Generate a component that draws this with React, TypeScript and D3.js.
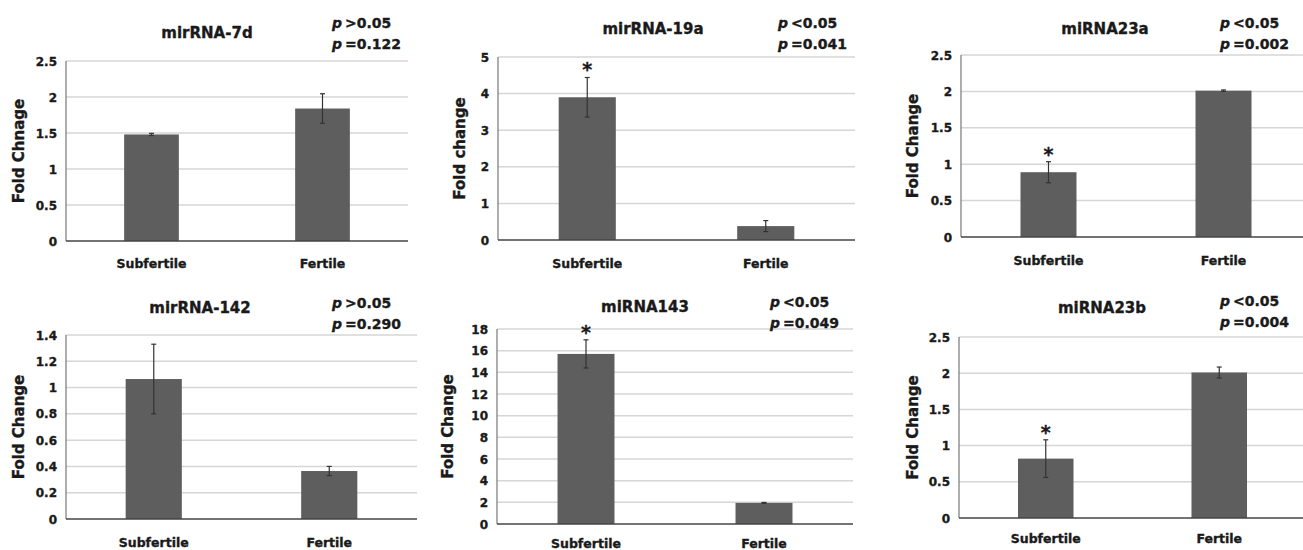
import React from "react";
import * as d3 from "d3";

// values
const groups = ["Subfertile", "Fertile"];
const titles = ["mirRNA-7d", "mirRNA-19a", "miRNA23a", "mirRNA-142", "miRNA143", "miRNA23b"];
const yLabels = ["Fold Chnage", "Fold change", "Fold Change", "Fold Change", "Fold Change", "Fold Change"];
const subfertileMean = [1.48, 3.9, 0.89, 1.065, 15.7, 0.82];
const subfertileErr = [0.015, 0.54, 0.145, 0.265, 1.3, 0.26];
const fertileMean = [1.84, 0.38, 2.01, 0.365, 1.95, 2.01];
const fertileErr = [0.205, 0.15, 0.01, 0.035, 0.04, 0.075];
const yMax = [2.5, 5, 2.5, 1.4, 18, 2.5];
const yStep = [0.5, 1, 0.5, 0.2, 2, 0.5];
const pSign = [">0.05", "<0.05", "<0.05", ">0.05", "<0.05", "<0.05"];
const pValue = ["=0.122", "=0.041", "=0.002", "=0.290", "=0.049", "=0.004"];
const starred = [false, true, true, false, true, true];

// where each panel sits on the page
const layout = [
  { left: 66, top: 61, bottom: 241, right: 408, titleX: 207, titleY: 38, pX: 332, pY: 28, yLabX: 24, xLabY: 268 },
  { left: 498, top: 57, bottom: 240, right: 855, titleX: 653, titleY: 34, pX: 778, pY: 28, yLabX: 465, xLabY: 268 },
  { left: 961, top: 55, bottom: 237, right: 1311, titleX: 1105, titleY: 34, pX: 1220, pY: 28, yLabX: 918, xLabY: 265 },
  { left: 66, top: 335, bottom: 519, right: 417, titleX: 200, titleY: 313, pX: 332, pY: 308, yLabX: 24, xLabY: 547 },
  { left: 497, top: 329, bottom: 524, right: 853, titleX: 645, titleY: 312, pX: 770, pY: 307, yLabX: 453, xLabY: 548 },
  { left: 959, top: 337, bottom: 518, right: 1306, titleX: 1102, titleY: 313, pX: 1220, pY: 306, yLabX: 918, xLabY: 543 },
];

const font = "'DejaVu Sans', sans-serif";
const ink = "#1a1a1a";
// the scan's lettering is heavier than plain bold
const heavy = { fontWeight: "bold", fontFamily: font, fill: ink, stroke: ink, strokeWidth: 0.35 } as const;

const Panel = ({ i }: { i: number }) => {
  const L = layout[i];
  const x = d3.scaleBand().domain(groups).range([L.left, L.right]).paddingInner(0.68).paddingOuter(0.34);
  const y = d3.scaleLinear().domain([0, yMax[i]]).range([L.bottom, L.top]);
  const ticks = d3.range(0, yMax[i] + yStep[i] / 2, yStep[i]);
  const fmt = (v: number) => String(+v.toFixed(1));
  const bars = [
    { key: groups[0], mean: subfertileMean[i], err: subfertileErr[i], star: starred[i] },
    { key: groups[1], mean: fertileMean[i], err: fertileErr[i], star: false },
  ];
  const midY = (L.top + L.bottom) / 2;

  return (
    <g>
      {ticks.map((t) => (
        <g key={t}>
          {t > 0 && (
            <line x1={L.left} x2={L.right} y1={y(t)} y2={y(t)} stroke="#d6d6d6" strokeWidth={1.5} />
          )}
          <text x={L.left - 9} y={y(t) + 4.5} textAnchor="end" fontSize={12} {...heavy}>
            {fmt(t)}
          </text>
        </g>
      ))}
      <line x1={L.left} x2={L.left} y1={L.top} y2={L.bottom} stroke="#777" strokeWidth={1.2} />
      {bars.map((b) => {
        const cx = (x(b.key) as number) + x.bandwidth() / 2;
        const hi = y(b.mean + b.err);
        const lo = y(b.mean - b.err);
        return (
          <g key={b.key}>
            <rect x={x(b.key)} y={y(b.mean)} width={x.bandwidth()} height={y(0) - y(b.mean)} fill="#5e5e5e" />
            <line x1={cx} x2={cx} y1={hi} y2={lo} stroke="#333" strokeWidth={1.2} />
            <line x1={cx - 2.5} x2={cx + 2.5} y1={hi} y2={hi} stroke="#333" strokeWidth={1.2} />
            <line x1={cx - 2.5} x2={cx + 2.5} y1={lo} y2={lo} stroke="#333" strokeWidth={1.2} />
            {b.star && (
              <text x={cx} y={hi - 1} textAnchor="middle" fontSize={19} {...heavy}>
                *
              </text>
            )}
            <text x={cx} y={L.xLabY} textAnchor="middle" fontSize={12.5} {...heavy}>
              {b.key}
            </text>
          </g>
        );
      })}
      <line x1={L.left} x2={L.right} y1={L.bottom} y2={L.bottom} stroke="#444" strokeWidth={1.4} />
      <text x={L.titleX} y={L.titleY} textAnchor="middle" fontSize={15} {...heavy}>
        {titles[i]}
      </text>
      <text transform={`translate(${L.yLabX},${midY}) rotate(-90)`} textAnchor="middle" fontSize={15} {...heavy}>
        {yLabels[i]}
      </text>
      {[pSign[i], pValue[i]].map((s, k) => (
        <text key={k} x={L.pX} y={L.pY + k * 21} fontSize={14} {...heavy}>
          <tspan fontStyle="italic">p</tspan>
          <tspan dx={3}>{s}</tspan>
        </text>
      ))}
    </g>
  );
};

const App = () => (
  <svg width={1303} height={550} style={{ position: "absolute", left: 0, top: 0, background: "#fff" }}>
    <rect width={1303} height={550} fill="#fff" />
    {titles.map((_, i) => (
      <Panel key={i} i={i} />
    ))}
  </svg>
);

export default App;
